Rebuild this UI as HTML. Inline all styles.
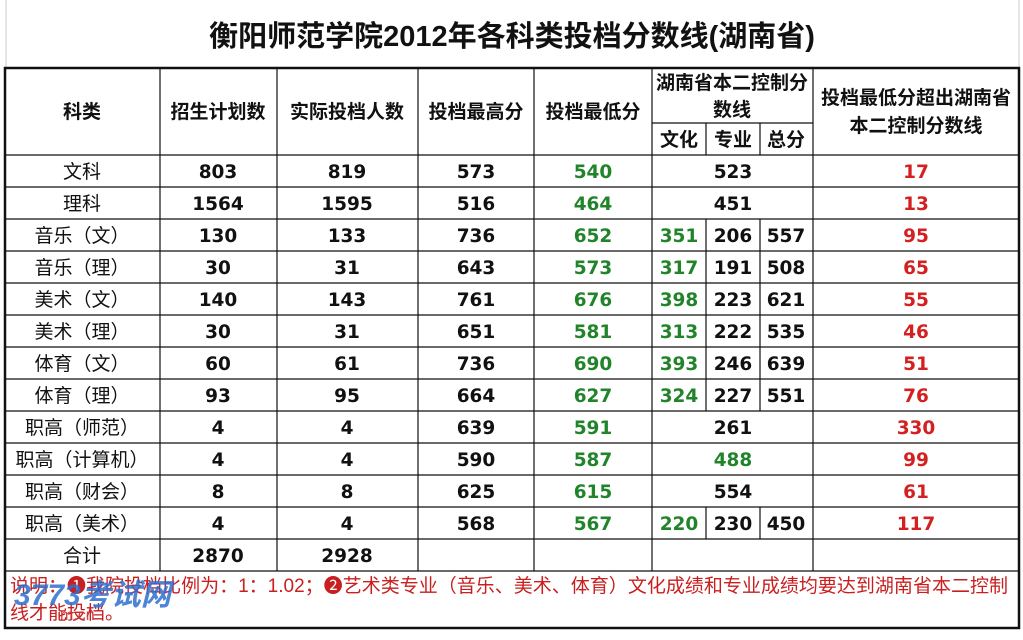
<!DOCTYPE html>
<html><head><meta charset="utf-8"><style>
html,body{margin:0;padding:0;background:#fff;}
svg{display:block;}
text{font-family:"Liberation Sans","Noto Sans CJK SC",sans-serif;}
.h{font-size:19px;font-weight:bold;fill:#111;}
.c{font-size:19px;fill:#111;}
.n,.g,.r{font-family:"DejaVu Sans","Liberation Sans",sans-serif;font-size:18.5px;font-weight:bold;}
.n{fill:#111;}
.g{fill:#22842a;}
.r{fill:#d42020;}
</style></head><body>
<svg width="1023" height="640" viewBox="0 0 1023 640" xmlns="http://www.w3.org/2000/svg">
<rect width="1023" height="640" fill="#fff"/>
<line x1="6" y1="0" x2="6" y2="68" stroke="#ccc"/>
<line x1="1019" y1="0" x2="1019" y2="68" stroke="#ccc"/>
<text x="512" y="46" text-anchor="middle" style="font-size:29px;font-weight:bold;fill:#111">衡阳师范学院2012年各科类投档分数线(湖南省)</text>
<g stroke="#111" stroke-width="1.2" fill="none">
<line x1="652" y1="123" x2="813" y2="123"/>
<line x1="5" y1="155" x2="1019" y2="155"/>
<line x1="5" y1="187" x2="1019" y2="187"/>
<line x1="5" y1="219" x2="1019" y2="219"/>
<line x1="5" y1="251" x2="1019" y2="251"/>
<line x1="5" y1="283" x2="1019" y2="283"/>
<line x1="5" y1="315" x2="1019" y2="315"/>
<line x1="5" y1="347" x2="1019" y2="347"/>
<line x1="5" y1="379" x2="1019" y2="379"/>
<line x1="5" y1="411" x2="1019" y2="411"/>
<line x1="5" y1="443" x2="1019" y2="443"/>
<line x1="5" y1="475" x2="1019" y2="475"/>
<line x1="5" y1="507" x2="1019" y2="507"/>
<line x1="5" y1="539" x2="1019" y2="539"/>
<line x1="5" y1="571" x2="1019" y2="571"/>
<line x1="160" y1="68" x2="160" y2="571"/>
<line x1="277" y1="68" x2="277" y2="571"/>
<line x1="418" y1="68" x2="418" y2="571"/>
<line x1="534" y1="68" x2="534" y2="571"/>
<line x1="652" y1="68" x2="652" y2="571"/>
<line x1="813" y1="68" x2="813" y2="571"/>
<line x1="706" y1="123" x2="706" y2="155"/>
<line x1="760" y1="123" x2="760" y2="155"/>
<line x1="706" y1="219" x2="706" y2="411"/>
<line x1="760" y1="219" x2="760" y2="411"/>
<line x1="706" y1="507" x2="706" y2="539"/>
<line x1="760" y1="507" x2="760" y2="539"/>
</g>
<rect x="5" y="68" width="1014" height="560" fill="none" stroke="#111" stroke-width="2.5"/>
<text class="h" x="82" y="118" text-anchor="middle">科类</text>
<text class="h" x="218" y="118" text-anchor="middle">招生计划数</text>
<text class="h" x="347" y="118" text-anchor="middle">实际投档人数</text>
<text class="h" x="476" y="118" text-anchor="middle">投档最高分</text>
<text class="h" x="593" y="118" text-anchor="middle">投档最低分</text>
<text class="h" x="732" y="89" text-anchor="middle">湖南省本二控制分</text>
<text class="h" x="732" y="116" text-anchor="middle">数线</text>
<text class="h" x="679" y="146" text-anchor="middle">文化</text>
<text class="h" x="733" y="146" text-anchor="middle">专业</text>
<text class="h" x="786" y="146" text-anchor="middle">总分</text>
<text class="h" x="916" y="104" text-anchor="middle">投档最低分超出湖南省</text>
<text class="h" x="916" y="132" text-anchor="middle">本二控制分数线</text>
<g text-anchor="middle">
<text class="c" x="82" y="178">文科</text><text class="n" x="218" y="178">803</text><text class="n" x="347" y="178">819</text><text class="n" x="476" y="178">573</text><text class="g" x="593" y="178">540</text><text class="n" x="733" y="178">523</text><text class="r" x="916" y="178">17</text>
<text class="c" x="82" y="210">理科</text><text class="n" x="218" y="210">1564</text><text class="n" x="347" y="210">1595</text><text class="n" x="476" y="210">516</text><text class="g" x="593" y="210">464</text><text class="n" x="733" y="210">451</text><text class="r" x="916" y="210">13</text>
<text class="c" x="82" y="242">音乐（文）</text><text class="n" x="218" y="242">130</text><text class="n" x="347" y="242">133</text><text class="n" x="476" y="242">736</text><text class="g" x="593" y="242">652</text><text class="g" x="679" y="242">351</text><text class="n" x="733" y="242">206</text><text class="n" x="786" y="242">557</text><text class="r" x="916" y="242">95</text>
<text class="c" x="82" y="274">音乐（理）</text><text class="n" x="218" y="274">30</text><text class="n" x="347" y="274">31</text><text class="n" x="476" y="274">643</text><text class="g" x="593" y="274">573</text><text class="g" x="679" y="274">317</text><text class="n" x="733" y="274">191</text><text class="n" x="786" y="274">508</text><text class="r" x="916" y="274">65</text>
<text class="c" x="82" y="306">美术（文）</text><text class="n" x="218" y="306">140</text><text class="n" x="347" y="306">143</text><text class="n" x="476" y="306">761</text><text class="g" x="593" y="306">676</text><text class="g" x="679" y="306">398</text><text class="n" x="733" y="306">223</text><text class="n" x="786" y="306">621</text><text class="r" x="916" y="306">55</text>
<text class="c" x="82" y="338">美术（理）</text><text class="n" x="218" y="338">30</text><text class="n" x="347" y="338">31</text><text class="n" x="476" y="338">651</text><text class="g" x="593" y="338">581</text><text class="g" x="679" y="338">313</text><text class="n" x="733" y="338">222</text><text class="n" x="786" y="338">535</text><text class="r" x="916" y="338">46</text>
<text class="c" x="82" y="370">体育（文）</text><text class="n" x="218" y="370">60</text><text class="n" x="347" y="370">61</text><text class="n" x="476" y="370">736</text><text class="g" x="593" y="370">690</text><text class="g" x="679" y="370">393</text><text class="n" x="733" y="370">246</text><text class="n" x="786" y="370">639</text><text class="r" x="916" y="370">51</text>
<text class="c" x="82" y="402">体育（理）</text><text class="n" x="218" y="402">93</text><text class="n" x="347" y="402">95</text><text class="n" x="476" y="402">664</text><text class="g" x="593" y="402">627</text><text class="g" x="679" y="402">324</text><text class="n" x="733" y="402">227</text><text class="n" x="786" y="402">551</text><text class="r" x="916" y="402">76</text>
<text class="c" x="82" y="434">职高（师范）</text><text class="n" x="218" y="434">4</text><text class="n" x="347" y="434">4</text><text class="n" x="476" y="434">639</text><text class="g" x="593" y="434">591</text><text class="n" x="733" y="434">261</text><text class="r" x="916" y="434">330</text>
<text class="c" x="82" y="466">职高（计算机）</text><text class="n" x="218" y="466">4</text><text class="n" x="347" y="466">4</text><text class="n" x="476" y="466">590</text><text class="g" x="593" y="466">587</text><text class="g" x="733" y="466">488</text><text class="r" x="916" y="466">99</text>
<text class="c" x="82" y="498">职高（财会）</text><text class="n" x="218" y="498">8</text><text class="n" x="347" y="498">8</text><text class="n" x="476" y="498">625</text><text class="g" x="593" y="498">615</text><text class="n" x="733" y="498">554</text><text class="r" x="916" y="498">61</text>
<text class="c" x="82" y="530">职高（美术）</text><text class="n" x="218" y="530">4</text><text class="n" x="347" y="530">4</text><text class="n" x="476" y="530">568</text><text class="g" x="593" y="530">567</text><text class="g" x="679" y="530">220</text><text class="n" x="733" y="530">230</text><text class="n" x="786" y="530">450</text><text class="r" x="916" y="530">117</text>
<text class="c" x="82" y="562">合计</text><text class="n" x="218" y="562">2870</text><text class="n" x="347" y="562">2928</text>
</g>
<text x="10" y="592" textLength="998" lengthAdjust="spacingAndGlyphs" style="font-size:19px;fill:#c82020">说明：❶我院投档比例为：1：1.02；❷艺术类专业（音乐、美术、体育）文化成绩和专业成绩均要达到湖南省本二控制</text>
<text x="10" y="619" style="font-size:19px;fill:#c82020">线才能投档。</text>
<text x="14" y="605" style="font-size:30px;font-weight:bold;font-style:italic;fill:#2e6fd0;opacity:0.85">3773考试网</text>
<text x="60" y="620" style="font-size:16px;fill:#d03030;opacity:0.9">m.cn</text>
</svg>
</body></html>
